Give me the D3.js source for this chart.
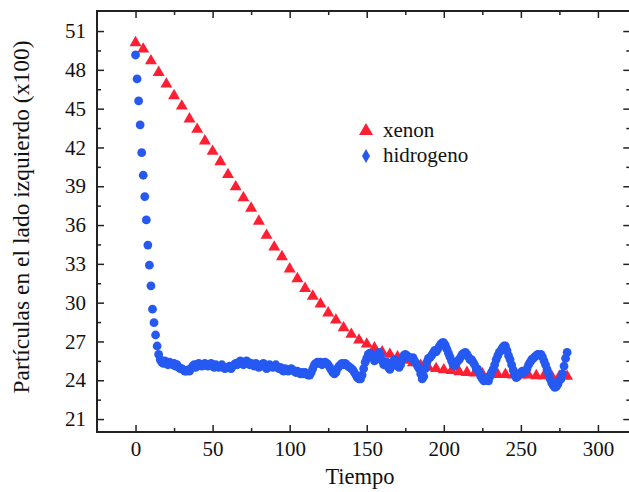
<!DOCTYPE html>
<html>
<head>
<meta charset="utf-8">
<script src="https://cdn.jsdelivr.net/npm/d3@7"></script>
<style>
  body { margin: 0; background: #fff; }
</style>
</head>
<body>
<svg id="chart"></svg>
<script>
// tick labels
const xTicks = [0, 50, 100, 150, 200, 250, 300];
const yTicks = [21, 24, 27, 30, 33, 36, 39, 42, 45, 48, 51];
const seriesNames = ["xenon", "hidrogeno"];

// xenon, one reading every 5 time units from t = 0
const xenonStep = 5;
const xenon = [
  50.1, 49.6, 48.7, 47.8, 46.9, 46.0, 45.2, 44.2, 43.4, 42.5,
  41.7, 40.9, 39.9, 38.95, 38.1, 37.3, 36.3, 35.2, 34.3, 33.55,
  32.6, 31.85, 31.1, 30.5, 29.9, 29.2, 28.65, 28.05, 27.55, 27.1,
  26.8, 26.5, 26.2, 26.0, 25.8, 25.55, 25.35, 25.15, 25.0, 24.9,
  24.8, 24.75, 24.65, 24.6, 24.55, 24.5, 24.5, 24.45, 24.45, 24.4,
  24.4, 24.4, 24.35, 24.35, 24.3, 24.3, 24.3
];

// hidrogeno, one reading every time unit from t = 0
const hydrogenStep = 1;
const hidrogeno = [
  49.15, 47.3, 45.6, 43.75, 41.6, 39.85, 38.2, 36.4, 34.45, 32.9, 31.3, 29.5, 28.45, 27.5, 26.65,
  26.0, 25.6, 25.4, 25.3, 25.5, 25.3, 25.2, 25.4, 25.3, 25.2, 25.3, 25.1, 25.2, 25.0, 24.9,
  24.9, 24.8, 24.7, 24.7, 24.8, 24.7, 24.9, 25.1, 25.2, 25.0, 25.2, 25.3, 25.2, 25.1, 25.2,
  25.3, 25.2, 25.1, 25.2, 25.3, 25.1, 25.0, 25.2, 25.1, 25.0, 25.1, 25.2, 25.0, 24.9, 25.0,
  25.0, 25.1, 24.9, 25.1, 25.2, 25.3, 25.2, 25.4, 25.5, 25.3, 25.2, 25.3, 25.5, 25.4, 25.2,
  25.3, 25.2, 25.1, 25.3, 25.2, 25.0, 25.1, 25.2, 25.3, 25.1, 24.9, 25.0, 25.2, 25.1, 25.0,
  25.1, 25.2, 25.0, 24.9, 25.0, 24.8, 24.7, 24.9, 24.8, 24.7, 24.8, 24.9, 24.8, 24.7, 24.6,
  24.7, 24.6, 24.5, 24.6, 24.5, 24.6, 24.5, 24.4, 24.4, 24.6, 24.9, 25.2, 25.3, 25.4, 25.3,
  25.4, 25.2, 25.3, 25.4, 25.3, 25.2, 25.0, 24.8, 24.6, 24.5, 24.6, 24.9, 25.1, 25.2, 25.3,
  25.2, 25.3, 25.2, 25.1, 25.0, 24.9, 24.8, 24.6, 24.4, 24.2, 24.1, 24.1, 24.4, 24.9, 25.4,
  25.7, 26.0, 26.1, 26.0, 25.8, 25.5, 25.7, 26.0, 26.15, 25.9, 25.5, 25.2, 25.3, 25.4, 25.0,
  24.85, 25.1, 25.4, 25.6, 25.4, 25.1, 25.0, 25.2, 25.6, 25.9, 26.0, 25.9, 25.8, 25.75, 25.7,
  25.75, 25.5, 25.3, 25.1, 24.9, 24.5, 24.1, 24.3, 24.9, 25.4, 25.7, 25.75, 25.9, 26.1, 26.3,
  26.2, 26.4, 26.6, 26.8, 26.9, 26.9, 26.7, 26.4, 26.1, 25.8, 25.5, 25.2, 25.1, 25.3, 25.5,
  25.6, 25.8, 26.0, 26.1, 26.15, 26.0, 25.8, 25.6, 25.6, 25.4, 25.2, 24.9, 24.85, 24.6, 24.3,
  24.1, 23.95, 24.0, 24.2, 23.95, 24.3, 24.6, 24.85, 25.2, 25.6, 25.9, 26.15, 26.3, 26.5, 26.65,
  26.65, 26.3, 25.9, 25.6, 25.2, 24.8, 24.4, 24.2, 24.3, 24.5, 24.6, 24.7, 24.6, 24.7, 24.9,
  25.2, 25.4, 25.6, 25.7, 25.8, 25.9, 26.0, 26.0, 26.0, 25.8, 25.5, 25.2, 24.85, 24.5, 24.1,
  23.8, 23.6, 23.45, 23.5, 23.7, 24.0, 24.1, 24.5, 25.1, 25.7, 26.15
];

const width = 629, height = 492;
const plot = { left: 97, top: 11, right: 630.3, bottom: 432 };
const red = "#ff1f33", blue = "#2559f2";
const serif = "Liberation Serif";

const svg = d3.select("#chart").attr("width", width).attr("height", height);

const x = d3.scaleLinear().domain([-25, 321]).range([plot.left, plot.right]);
const y = d3.scaleLinear().domain([20, 52.55]).range([plot.bottom, plot.top]);

const xMinor = xTicks.map(d => d + 25).filter(d => d < 321);
const yMinor = yTicks.map(d => d + 1.5).filter(d => d < 52.5);

// axes, ticks pointing inward
const drawAxis = (axis, transform, showLabels) => {
  const g = svg.append("g").attr("transform", transform).call(axis);
  g.select(".domain").remove();
  g.attr("font-family", serif).attr("font-size", 21);
  g.selectAll("line").attr("stroke", "#222").attr("stroke-width", 1.5);
  g.selectAll("text").attr("fill", "#111");
  if (!showLabels) g.selectAll("text").remove();
  return g;
};

drawAxis(d3.axisBottom(x).tickValues(xTicks).tickSize(-7).tickPadding(9), `translate(0,${plot.bottom})`, true);
drawAxis(d3.axisBottom(x).tickValues(xMinor).tickSize(-4).tickFormat(""), `translate(0,${plot.bottom})`, false);
drawAxis(d3.axisTop(x).tickValues(xTicks).tickSize(-7), `translate(0,${plot.top})`, false);
drawAxis(d3.axisTop(x).tickValues(xMinor).tickSize(-4), `translate(0,${plot.top})`, false);
drawAxis(d3.axisLeft(y).tickValues(yTicks).tickSize(-7).tickPadding(11), `translate(${plot.left},0)`, true);
drawAxis(d3.axisLeft(y).tickValues(yMinor).tickSize(-4).tickFormat(""), `translate(${plot.left},0)`, false);
drawAxis(d3.axisRight(y).tickValues(yTicks).tickSize(-7), `translate(${plot.right},0)`, false);
drawAxis(d3.axisRight(y).tickValues(yMinor).tickSize(-4), `translate(${plot.right},0)`, false);

// frame
svg.append("rect")
  .attr("x", plot.left).attr("y", plot.top)
  .attr("width", plot.right - plot.left).attr("height", plot.bottom - plot.top)
  .attr("fill", "none").attr("stroke", "#222").attr("stroke-width", 2);

// xenon triangles
const tri = d3.symbol().type(d3.symbolTriangle).size(62);
svg.append("g").selectAll("path")
  .data(xenon)
  .join("path")
  .attr("d", tri)
  .attr("fill", red)
  .attr("transform", (d, i) => `translate(${x(i * xenonStep)},${y(d)})`);

// hidrogeno dots
svg.append("g").selectAll("circle")
  .data(hidrogeno)
  .join("circle")
  .attr("cx", (d, i) => x(i * hydrogenStep))
  .attr("cy", d => y(d))
  .attr("r", 4.4)
  .attr("fill", blue);

// legend
const legend = svg.append("g").attr("font-family", serif).attr("font-size", 21);
const legendSymbols = [d3.symbolTriangle, d3.symbolDiamond];
const legendColors = [red, blue];
const legendSizes = [85, 55];
seriesNames.forEach((name, i) => {
  legend.append("path")
    .attr("d", d3.symbol().type(legendSymbols[i]).size(legendSizes[i]))
    .attr("fill", legendColors[i])
    .attr("transform", `translate(366,${131 + i * 25})`);
  legend.append("text")
    .attr("x", 383).attr("y", 137 + i * 25)
    .attr("fill", "#111")
    .text(name);
});

// axis titles
svg.append("text")
  .attr("x", 360).attr("y", 484)
  .attr("text-anchor", "middle")
  .attr("font-family", serif)
  .attr("font-size", 22.5)
  .attr("fill", "#111")
  .text("Tiempo");

svg.append("text")
  .attr("transform", "translate(29,217) rotate(-90)")
  .attr("text-anchor", "middle")
  .attr("font-family", serif)
  .attr("font-size", 23.5)
  .attr("fill", "#111")
  .text("Partículas en el lado izquierdo (x100)");
</script>
</body>
</html>
